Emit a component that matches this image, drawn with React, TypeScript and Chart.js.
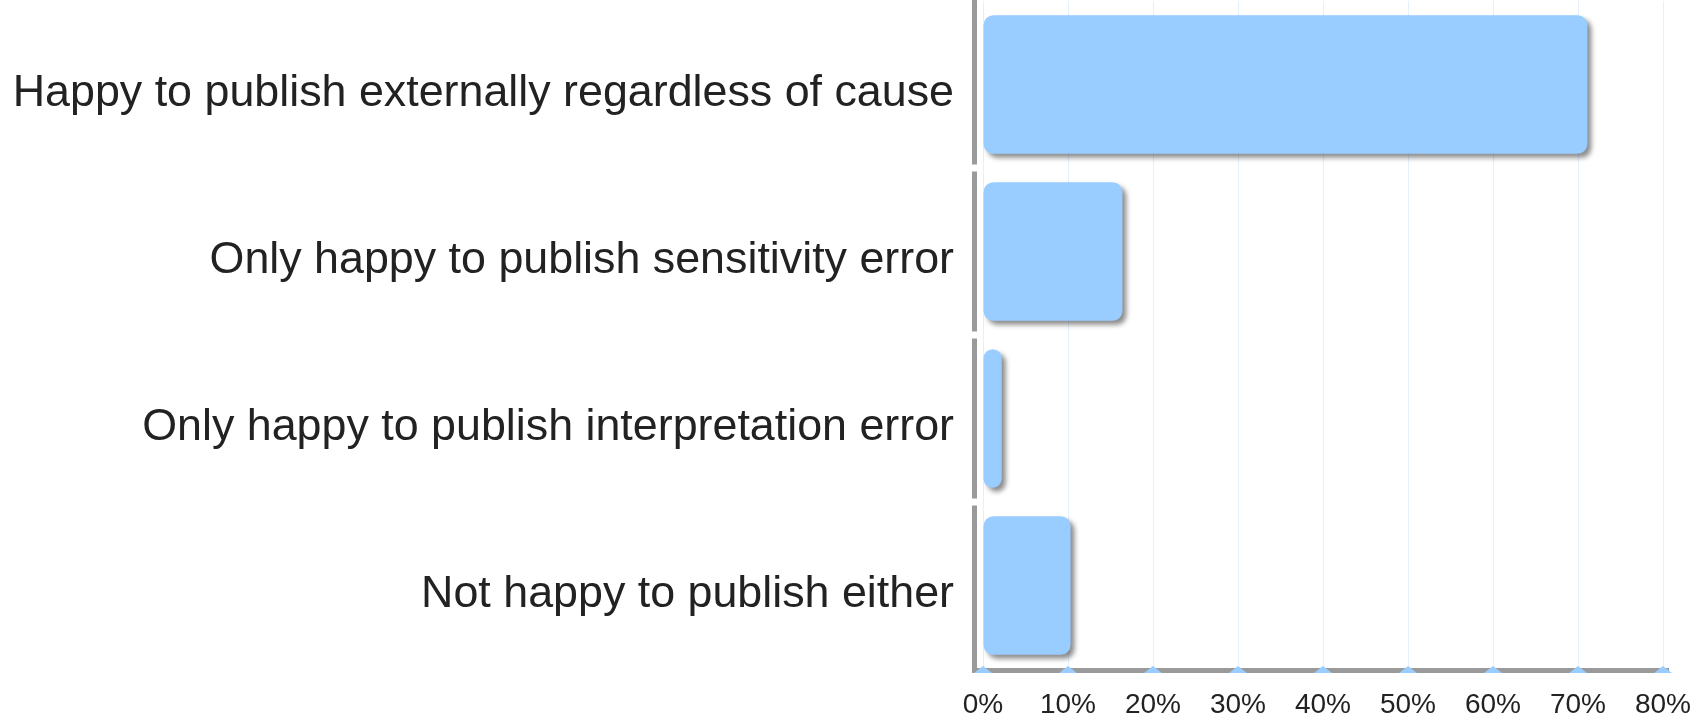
import React, { useEffect, useRef } from "react";
import { Chart, registerables } from "chart.js";

Chart.register(...registerables);

const categories = [
  "Happy to publish externally regardless of cause",
  "Only happy to publish sensitivity error",
  "Only happy to publish interpretation error",
  "Not happy to publish either",
];
const percentValues = [71.1, 16.4, 2.2, 10.3];
const xTickValues = [0, 10, 20, 30, 40, 50, 60, 70, 80];

const BAR_COLOR = "#99ccff";
const AXIS_COLOR = "#9a9a9a";
const GRID_COLOR = "#e6f0fc";

const axisPlugin = {
  id: "customAxes",
  beforeDatasetsDraw(chart: any) {
    const ctx = chart.ctx;
    ctx.save();
    ctx.shadowColor = "rgba(0,0,0,0.45)";
    ctx.shadowBlur = 5;
    ctx.shadowOffsetX = 4;
    ctx.shadowOffsetY = 4;
  },
  afterDatasetsDraw(chart: any) {
    const ctx = chart.ctx;
    ctx.restore();
    const { top, bottom, left, right } = chart.chartArea;
    const yScale = chart.scales.y;
    const xScale = chart.scales.x;
    const axisX = left - 8.5;
    const axisY = bottom + 1.5;
    ctx.save();
    ctx.strokeStyle = AXIS_COLOR;
    ctx.lineWidth = 5;
    const n = categories.length;
    const band = (bottom - top) / n;
    for (let i = 0; i < n; i++) {
      const c = yScale.getPixelForValue(i);
      const s = i === 0 ? 0 : c - band / 2 + 3.5;
      const e = i === n - 1 ? axisY : c + band / 2 - 3.5;
      ctx.beginPath();
      ctx.moveTo(axisX, s);
      ctx.lineTo(axisX, e);
      ctx.stroke();
    }
    ctx.beginPath();
    ctx.moveTo(axisX - 2.5, axisY);
    ctx.lineTo(right + 6, axisY);
    ctx.stroke();
    ctx.fillStyle = BAR_COLOR;
    for (const v of xTickValues) {
      const px = xScale.getPixelForValue(v);
      ctx.beginPath();
      ctx.moveTo(px - 9, axisY + 2.5);
      ctx.lineTo(px, axisY - 4.5);
      ctx.lineTo(px + 9, axisY + 2.5);
      ctx.closePath();
      ctx.fill();
    }
    ctx.restore();
  },
};

export default function App() {
  const canvasRef = useRef<HTMLCanvasElement | null>(null);

  useEffect(() => {
    document.body.style.margin = "0";
    const canvas = canvasRef.current;
    if (!canvas) return;
    const chart = new Chart(canvas, {
      type: "bar",
      data: {
        labels: categories,
        datasets: [
          {
            data: percentValues,
            backgroundColor: BAR_COLOR,
            borderWidth: 0,
            borderRadius: 10,
            borderSkipped: false,
            barPercentage: 0.83,
            categoryPercentage: 1,
          },
        ],
      },
      options: {
        indexAxis: "y",
        animation: false,
        responsive: false,
        maintainAspectRatio: false,
        layout: { padding: { top: 1, right: 45, bottom: 0, left: 0 } },
        plugins: {
          legend: { display: false },
          tooltip: { enabled: false },
          title: { display: false },
        },
        scales: {
          x: {
            min: 0,
            max: 80,
            afterBuildTicks: (scale: any) => {
              scale.ticks = xTickValues.map((v) => ({ value: v }));
            },
            afterFit: (scale: any) => {
              scale.height = 49;
              scale.paddingLeft = 0;
              scale.paddingRight = 0;
            },
            ticks: {
              callback: (v: any) => `${v}%`,
              font: { family: "'Liberation Sans', Arial, sans-serif", size: 28 },
              color: "#222222",
              padding: 19,
              maxRotation: 0,
              autoSkip: false,
            },
            grid: { color: GRID_COLOR, lineWidth: 1, drawTicks: false },
            border: { display: false },
          },
          y: {
            afterFit: (scale: any) => {
              scale.width = 983;
              scale.paddingTop = 0;
              scale.paddingBottom = 0;
            },
            ticks: {
              font: { family: "'Liberation Sans', Arial, sans-serif", size: 44.8 },
              color: "#222222",
              padding: 29,
              labelOffset: 9,
            },
            grid: { display: false, drawTicks: false },
            border: { display: false },
          },
        },
      },
      plugins: [axisPlugin],
    });
    return () => chart.destroy();
  }, []);

  return (
    <div style={{ position: "fixed", left: 0, top: 0, width: 1708, height: 718, background: "#ffffff" }}>
      <canvas ref={canvasRef} width={1708} height={718} style={{ width: 1708, height: 718 }} />
    </div>
  );
}
